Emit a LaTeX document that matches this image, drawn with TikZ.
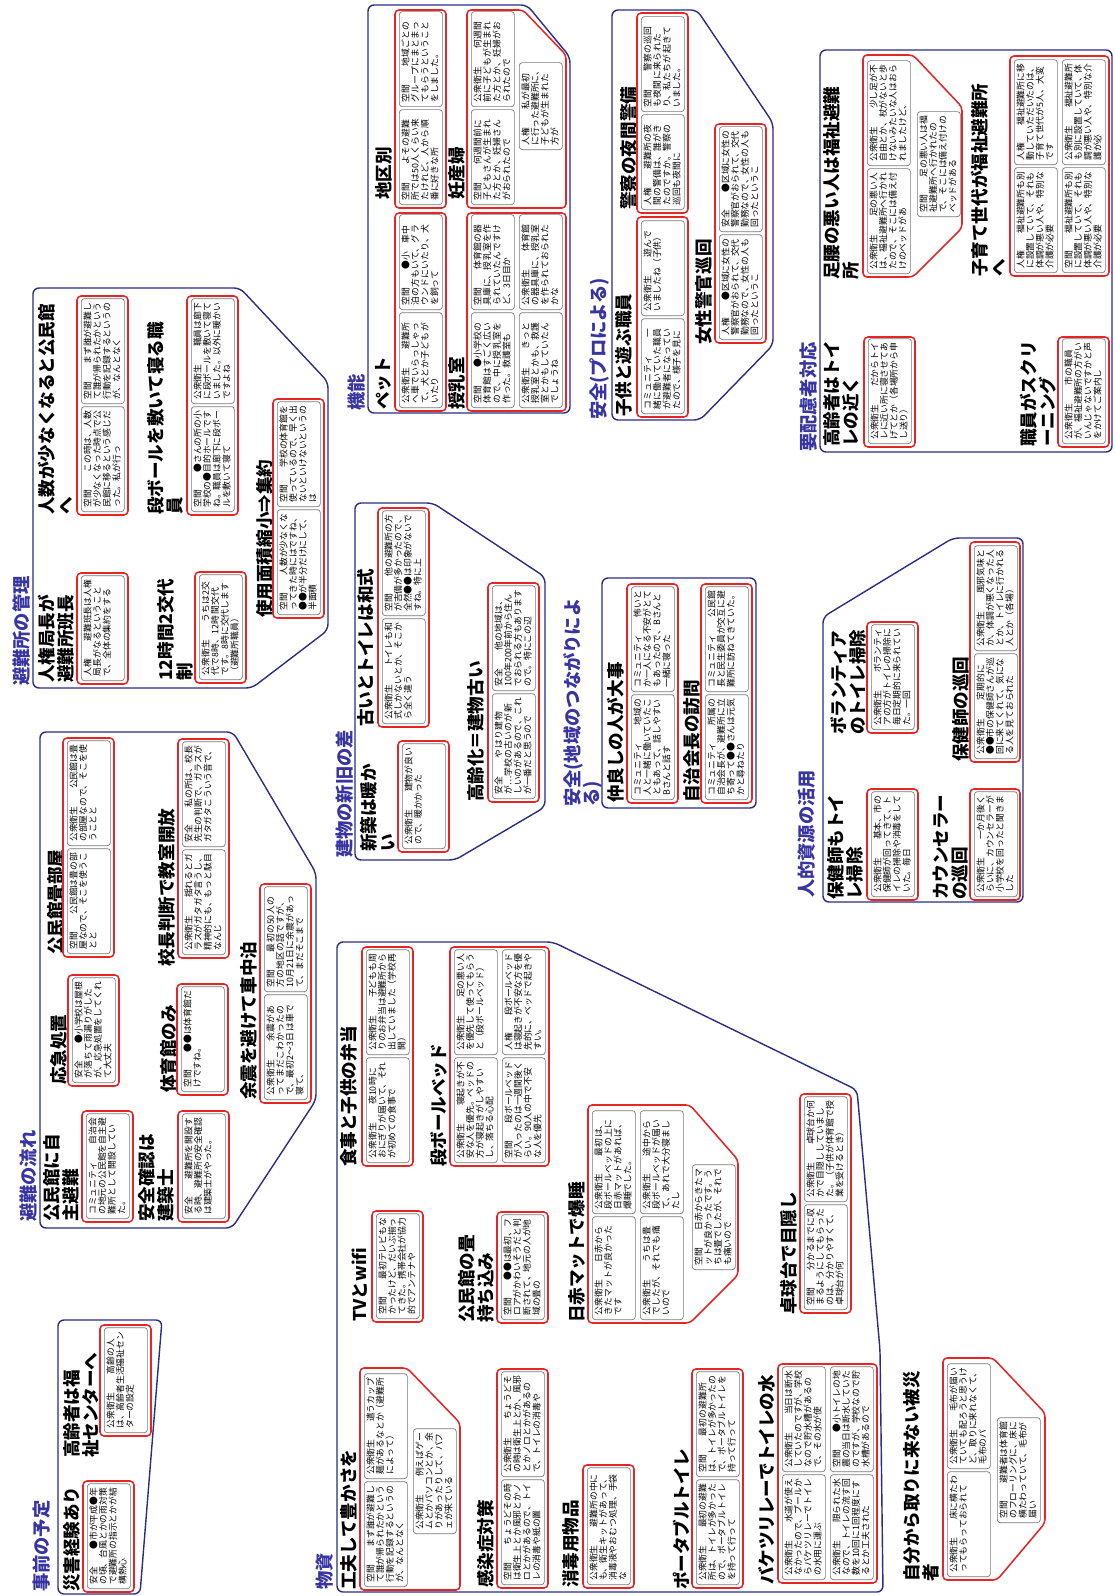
\documentclass[tikz,border=0pt]{standalone}
\usepackage{fontspec}
\setmainfont{Noto Sans CJK JP}
\XeTeXlinebreaklocale "ja"
\XeTeXlinebreakskip=0pt plus 1pt
\usepackage{tikz}
\usepackage{xcolor}
\definecolor{titleblue}{RGB}{56,52,160}
\definecolor{lineblue}{RGB}{44,44,130}
\definecolor{cardred}{RGB}{228,38,38}
\definecolor{notegray}{RGB}{120,120,120}

\begin{document}
\begin{tikzpicture}[x=0.5mm, y=-0.5mm,
    grouptitle/.style={rotate=90, anchor=north west, inner sep=0pt, align=left, text=titleblue, font=\bfseries\fontsize{26}{28}\selectfont},
    cardtitle/.style={rotate=90, anchor=north west, inner sep=0pt, align=left, font=\bfseries\fontsize{25}{27}\selectfont},
    groupline/.style={draw=lineblue, line width=2pt, rounded corners=3mm},
    cardline/.style={draw=cardred, line width=2.2pt, rounded corners=2mm},
    note/.style={rotate=90, anchor=north west, draw=notegray, line width=1pt, rounded corners=1.5mm, inner xsep=2mm, inner ysep=0.7mm, text height=4mm, text depth=16.1mm, text width=48.5mm, align=left, font=\fontsize{12.5}{13.8}\selectfont},
    short note/.style={note, text width=43.5mm},
    mid note/.style={note, text width=47.5mm},
    long note/.style={note, text width=54.5mm},
    tiny note/.style={note, text width=39.5mm}]
    \useasboundingbox (0,0) rectangle (1114,1596);

    % 事前の予定
    \node[grouptitle] (g-jizen) at (33,1592) {事前の予定};
    \draw[groupline] (58,1320) -- (162,1320) -- (140,1594) -- (58,1594) -- cycle;
    \node[cardtitle] (t-saigai) at (63,1592) {災害経験あり};
    \draw[cardline] (83,1481) rectangle (134,1592);
    \node[note] (n-saigai) at (87,1589) {安全　　●市が平成●年の頃、台風とかの雨対策で避難所の指示とかが結構熱心};
    \node[cardtitle] (t-koreisha) at (63,1458) {高齢者は福\\祉センターへ};
    \draw[cardline] (100,1325) rectangle (151,1436);
    \node[note] (n-koreisha) at (104,1433) {公衆衛生　　高齢の人は、高齢者生活福祉センターの設定};

    % 避難の流れ
    \node[grouptitle] (g-nagare) at (20,1222) {避難の流れ};
    \draw[groupline] (40,732) -- (233,732) -- (316,873) -- (316,1100) -- (232,1228) -- (40,1228) -- cycle;
    \node[cardtitle] (t-jishu) at (43,1222) {公民館に自\\主避難};
    \draw[cardline] (82,1111) rectangle (133,1222);
    \node[note] (n-jishu) at (86,1219) {コミュニティ　　自治会の地元の公民館を自主避難所として開設していた。};
    \node[cardtitle] (t-kenchiku) at (138,1222) {安全確認は\\建築士};
    \draw[cardline] (178,1111) rectangle (229,1222);
    \node[note] (n-kenchiku) at (182,1219) {安全　　避難所を開設する時、避難所の安全確認は建築士がやった。};
    \node[cardtitle] (t-oukyu) at (50,1085) {応急処置};
    \draw[cardline] (68,975) rectangle (119,1086);
    \node[note] (n-oukyu) at (72,1083) {安全　　●小学校は屋根が落ちて雨漏りがしたが、応急処置をしてくれて大丈夫};
    \node[cardtitle] (t-tatami) at (47,955) {公民館畳部屋};
    \draw[cardline] (63,738) rectangle (114,957);
    \node[note] (n-tatami1) at (67,954) {空間　　公民館は畳の部屋なので、そこを使うことと};
    \node[note] (n-tatami2) at (67,846) {公衆衛生　　公民館は畳の部屋なので、そこを使うことと};
    \node[cardtitle] (t-taiiku) at (160,1093) {体育館のみ};
    \draw[cardline] (177,984) rectangle (228,1095);
    \node[note] (n-taiiku) at (181,1092) {空間　　●●は体育館だけですね。};
    \node[cardtitle] (t-kocho) at (158,967) {校長判断で教室開放};
    \draw[cardline] (178,739) rectangle (229,958);
    \node[note] (n-kocho1) at (182,955) {公衆衛生　　揺れるとガラスがガタガタ言うし、精神的にも、もっと駄目なんじ};
    \node[note] (n-kocho2) at (182,847) {安全　　私の所は、校長先生の判断で、ガラスがガタガタこういう音で、};
    \node[cardtitle] (t-yoshin) at (240,1100) {余震を避けて車中泊};
    \draw[cardline] (260,884) rectangle (311,1103);
    \node[note] (n-yoshin1) at (264,1100) {公衆衛生　　余震があってまだこわかったので、最初2〜3日は車で寝て、};
    \node[note] (n-yoshin2) at (264,992) {空間　　最初の50人の方の地区の話ですが、10月21日に余震があって、まだそこまで};

    % 避難所の管理
    \node[grouptitle] (g-kanri) at (13,686) {避難所の管理};
    \draw[groupline] (33,288) -- (240,288) -- (328,382) -- (328,630) -- (252,688) -- (33,688) -- cycle;
    \node[cardtitle] (t-hancho) at (38,683) {人権局長が\\避難所班長};
    \draw[cardline] (77,573) rectangle (128,684);
    \node[note] (n-hancho) at (81,681) {人権　　避難班長は人権局長がなるということで、全体の集約をする};
    \node[cardtitle] (t-kotai) at (157,681) {12時間2交代\\制};
    \draw[cardline] (195,572) rectangle (246,683);
    \node[note] (n-kotai) at (199,680) {公衆衛生　　うちは2交代で8時、12時間交代です。8時に交代します（避難所職員）};
    \node[cardtitle] (t-ninzu) at (38,515) {人数が少なくなると公民館\\へ};
    \draw[cardline] (77,296) rectangle (128,515);
    \node[note] (n-ninzu1) at (81,512) {空間　　この時は、人数が少なくなった時点で公民館に移るという感じだった。私が行っ};
    \node[note] (n-ninzu2) at (81,404) {空間　　まず誰が避難して誰が帰られたかという行動を記録するというのが、なんとなく};
    \node[cardtitle] (t-dan) at (147,515) {段ボールを敷いて寝る職\\員};
    \draw[cardline] (187,296) rectangle (238,515);
    \node[note] (n-dan1) at (191,512) {空間　　●さんの所の小学校の●目的ホールですね。職員は廊下に段ボールを敷いて寝て};
    \node[note] (n-dan2) at (191,404) {公衆衛生　　職員は廊下に段ボールを敷いて寝ていました。以外に暖かいですよね};
    \node[cardtitle] (t-menseki) at (256,618) {使用面積縮小⇒集約};
    \draw[cardline] (273,399) rectangle (324,618);
    \node[note] (n-menseki1) at (277,615) {空間　　人数が少なくなってきた時にはですね、●●が半分だけにして、半面積};
    \node[note] (n-menseki2) at (277,507) {空間　　学校の体育館を使っているので、早く出ないといけないというのは};

    % 機能
    \node[grouptitle] (g-kino) at (348,411) {機能};
    \draw[groupline] (368,5) -- (527,5) -- (570,57) -- (570,413) -- (368,413) -- cycle;
    \node[cardtitle] (t-pet) at (375,410) {ペット};
    \draw[cardline] (395,213) rectangle (446,411);
    \node[short note] (n-pet1) at (399,408) {公衆衛生　　避難所へ車でいらっしゃって、犬とか子どもがいたり};
    \node[short note] (n-pet2) at (399,310) {空間　　●小　車中泊の方もいて、グラウンドにいたり、犬を飼って};
    \node[cardtitle] (t-chiku) at (375,200) {地区別};
    \draw[cardline] (395,10) rectangle (446,208);
    \node[short note] (n-chiku1) at (399,205) {空間　　よその避難所では50人くらい来たけれど、人から順番に好きな所};
    \node[short note] (n-chiku2) at (399,107) {空間　　地域ごとのグループにまとまってもらうということをしました。};
    \node[cardtitle] (t-junyu) at (448,410) {授乳室};
    \draw[cardline] (467,213) rectangle (566,411);
    \node[short note] (n-junyu1) at (471,408) {空間　　●小学校の体育館はすごく広いので、中に授乳室を作った。救護室も};
    \node[short note] (n-junyu2) at (471,310) {空間　　体育館の器具庫に、授乳室を作られていたんですけど、3日目か};
    \node[short note] (n-junyu3) at (519,408) {公衆衛生　　きっと授乳室とかも、救護室とかもしていたんでしょうね};
    \node[short note] (n-junyu4) at (519,310) {公衆衛生　　体育館の器具庫に、授乳室を作られておられたかな};
    \node[cardtitle] (t-ninpu) at (448,200) {妊産婦};
    \draw[cardline] (467,10) -- (523,10) -- (566,55) -- (566,208) -- (467,208) -- cycle;
    \node[short note] (n-ninpu1) at (471,205) {空間　　何週間前に子どもさんが生まれた方とか、妊婦さんがおられたので};
    \node[short note] (n-ninpu2) at (471,107) {公衆衛生　　何週間前に子どもが生まれた方とか、妊婦がおられたので};
    \node[tiny note] (n-ninpu3) at (519,150) {人権　　私が最初に行った避難所に、子どもが生まれた方が};

    % 安全(プロによる)
    \node[grouptitle] (g-pro) at (590,420) {安全(プロによる)};
    \draw[groupline] (612,10) -- (697,10) -- (773,123) -- (773,345) -- (700,420) -- (612,420) -- cycle;
    \node[cardtitle] (t-kodomo) at (615,417) {子供と遊ぶ職員};
    \draw[cardline] (637,217) rectangle (688,417);
    \node[short note] (n-kodomo1) at (641,414) {コミュニティ　　一緒に働いていた職員が避難者になっていたので、様子を見に};
    \node[short note] (n-kodomo2) at (641,316) {公衆衛生　　遊んでいましたね（子供）};
    \node[cardtitle] (t-keisatsu) at (620,210) {警察の夜間警備};
    \draw[cardline] (637,13) rectangle (688,213);
    \node[short note] (n-keisatsu1) at (641,210) {人権　　避難所の夜間の警備は、誰がきたのですか。警察の巡回も夜間に};
    \node[short note] (n-keisatsu2) at (641,112) {空間　　警察の巡回も夜間に来られたり、私たちが起きていました。};
    \node[cardtitle] (t-josei) at (695,345) {女性警官巡回};
    \draw[cardline] (715,124) rectangle (766,343);
    \node[note] (n-josei1) at (719,340) {人権　　●区域に女性の警察官がおられて、交代勤務なので、女性の人も回ったというこ};
    \node[note] (n-josei2) at (719,232) {安全　　●区域に女性の警察官がおられて、交代勤務なので、女性の人も回ったというこ};

    % 要配慮者対応
    \node[grouptitle] (g-hairyo) at (800,452) {要配慮者対応};
    \draw[groupline] (820,50) rectangle (1112,452);
    \node[cardtitle] (t-toilet) at (823,447) {高齢者はトイ\\レの近く};
    \draw[cardline] (864,337) rectangle (915,447);
    \node[note] (n-toilet) at (868,444) {公衆衛生　　だからトイレに近い所に寝させてあげてとか（各場所から申し送り）};
    \node[cardtitle] (t-ashi) at (823,280) {足腰の悪い人は福祉避難\\所};
    \draw[cardline] (863,55) -- (913,55) -- (962,107) -- (962,228) -- (913,277) -- (863,277) -- cycle;
    \node[note] (n-ashi1) at (867,274) {公衆衛生　　足の悪い人は、福祉避難所へ行かれたので、そこには備え付けのベッドがあ};
    \node[note] (n-ashi2) at (867,166) {公衆衛生　　少し足が不自由とか、杖がないと歩けないみたいな人はおられましたけど、};
    \node[note] (n-ashi3) at (917,217) {空間　　足の悪い人は福祉避難所へ行かれたので、そこには備え付けのベッドがある};
    \node[cardtitle] (t-screen) at (1020,447) {職員がスクリ\\ーニング};
    \draw[cardline] (1058,337) rectangle (1109,447);
    \node[note] (n-screen) at (1062,444) {公衆衛生　　市の職員が、福祉避難所の方がいいんじゃないですかと声をかけてご案内し};
    \node[cardtitle] (t-kosodate) at (971,277) {子育て世代が福祉避難所\\へ};
    \draw[cardline] (1010,56) rectangle (1109,276);
    \node[note] (n-kosodate1) at (1014,273) {人権　　福祉避難所も別に設置していて、それも体調が悪い人や、特別な介護が必要};
    \node[note] (n-kosodate2) at (1014,165) {人権　　福祉避難所に移動していただいたのは、子育て世代が5人、大変です};
    \node[note] (n-kosodate3) at (1062,273) {空間　　福祉避難所も別に設置していて、それも体調が悪い人や、特別な介護が必要};
    \node[note] (n-kosodate4) at (1062,165) {公衆衛生　　福祉避難所も別に設置していて、体調が悪い人や、特別な介護が必};

    % 建物の新旧の差
    \node[grouptitle] (g-tatemono) at (336,858) {建物の新旧の差};
    \draw[groupline] (355,503) -- (433,503) -- (545,577) -- (545,807) -- (455,860) -- (355,860) -- cycle;
    \node[cardtitle] (t-shinchiku) at (360,852) {新築は暖か\\い};
    \draw[cardline] (398,741) rectangle (449,852);
    \node[note] (n-shinchiku) at (402,849) {公衆衛生　　建物が良いので、暖かかった};
    \node[cardtitle] (t-washiki) at (357,727) {古いとトイレは和式};
    \draw[cardline] (378,508) rectangle (429,727);
    \node[note] (n-washiki1) at (382,724) {公衆衛生　　トイレも和式しかないとか、そこから全く違う};
    \node[note] (n-washiki2) at (382,616) {空間　　他の避難所の方が吉備が多かったので、全然●●は印象がないですね。特に上};
    \node[cardtitle] (t-koreika) at (467,802) {高齢化＝建物古い};
    \draw[cardline] (488,583) rectangle (539,802);
    \node[note] (n-koreika1) at (492,799) {安全　　やはり建物が…学校の古いのが新しいのがあるので、これが一番だと思うので};
    \node[note] (n-koreika2) at (492,691) {安全　　他の地域は、100年200年前から住んでおられる方もありますので。特にこの辺};

    % 安全(地域のつながりによる)
    \node[grouptitle] (g-chiiki) at (563,807) {安全(地域のつながりによ\\る)};
    \draw[groupline] (602,578) rectangle (756,808);
    \node[cardtitle] (t-nakayoshi) at (607,803) {仲良しの人が大事};
    \draw[cardline] (627,584) rectangle (678,803);
    \node[note] (n-nakayoshi1) at (631,800) {コミュニティ　　地域の人と一緒に働いていたこともあって、話しやすいBさんと話す};
    \node[note] (n-nakayoshi2) at (631,692) {コミュニティ　　怖いとか一人になる不安がとてもあったので、Bさんと一緒に寝った};
    \node[cardtitle] (t-jichi) at (683,803) {自治会長の訪問};
    \draw[cardline] (701,584) rectangle (752,803);
    \node[note] (n-jichi1) at (705,800) {コミュニティ　　所属の自治会長が、避難所に立ち寄って●●さんは元気かと尋ねたり};
    \node[note] (n-jichi2) at (705,692) {コミュニティ　　公民館長と民生委員が交互に避難所に訪ねてきていた。};

    % 人的資源の活用
    \node[grouptitle] (g-jinteki) at (798,898) {人的資源の活用};
    \draw[groupline] (823,617) -- (953,538) -- (1023,538) -- (1023,902) -- (823,902) -- cycle;
    \node[cardtitle] (t-hokenshi) at (827,900) {保健師もトイ\\レ掃除};
    \draw[cardline] (867,789) rectangle (918,900);
    \node[note] (n-hokenshi) at (871,897) {公衆衛生　　基本、市の保健師が回ってきて、トイレの掃除や消毒をしていた。毎日};
    \node[cardtitle] (t-volunteer) at (830,735) {ボランティア\\のトイレ掃除};
    \draw[cardline] (867,622) rectangle (918,733);
    \node[note] (n-volunteer) at (871,730) {公衆衛生　　ボランティアの方がトイレの掃除に毎日定期的に来られていた。一回};
    \node[cardtitle] (t-counselor) at (933,900) {カウンセラー\\の巡回};
    \draw[cardline] (970,789) rectangle (1020,900);
    \node[note] (n-counselor) at (974,897) {公衆衛生　　一か月後くらいに、カウンセラーが小学校を回ったと聞きました};
    \node[cardtitle] (t-junkai) at (952,762) {保健師の巡回};
    \draw[cardline] (970,542) rectangle (1020,762);
    \node[note] (n-junkai1) at (974,759) {公衆衛生　　定期的に●●市の保健師さんが巡回に来てくれて、気になる人を見ておられた};
    \node[note] (n-junkai2) at (974,651) {公衆衛生　　風邪気味とか、体調が悪くなった人とか、トイレに行かれる人とか（各場）};

    % 物資
    \node[grouptitle] (g-busshi) at (316,1590) {物資};
    \draw[groupline] (337,942) -- (553,942) -- (857,1090) -- (880,1350) -- (883,1592) -- (337,1592) -- cycle;
    \node[cardtitle] (t-kufu) at (340,1590) {工夫して豊かさを};
    \draw[cardline] (360,1368) -- (407,1368) -- (460,1423) -- (460,1590) -- (360,1590) -- cycle;
    \node[note] (n-kufu1) at (364,1587) {空間　　まず誰が避難して誰が帰られたかという行動を記録するというのが、なんとなく};
    \node[note] (n-kufu2) at (364,1479) {公衆衛生　　遣うカップ麺があるなとか（避難所によって）};
    \node[note] (n-kufu3) at (413,1534) {公衆衛生　　例えばゲームとかパソコンとか、余りがあったりして、パフェが来ている};
    \node[cardtitle] (t-tv) at (352,1322) {TVとwifi};
    \draw[cardline] (372,1211) rectangle (423,1322);
    \node[note] (n-tv) at (376,1319) {空間　　最初テレビもなかったけど、だいぶ揃ってきた。携帯会社が協力的でアンテナや};
    \node[cardtitle] (t-shokuji) at (340,1167) {食事と子供の弁当};
    \draw[cardline] (362,947) rectangle (413,1166);
    \node[note] (n-shokuji1) at (366,1163) {公衆衛生　　夜10時におにぎりが届いて、それが初めての食事で};
    \node[note] (n-shokuji2) at (366,1055) {公衆衛生　　子どもも周りのお弁当は避難所から出していました（学校再開）};
    \node[cardtitle] (t-bed) at (430,1167) {段ボールベッド};
    \draw[cardline] (450,947) rectangle (549,1166);
    \node[note] (n-bed1) at (454,1163) {公衆衛生　　寝起きが不安な人を優先。ベッドの方が寝起きがしやすいし、落ちる心配};
    \node[note] (n-bed2) at (454,1055) {公衆衛生　　足の悪い人を優先して使ってもらうと（段ボールベッド）};
    \node[note] (n-bed3) at (502,1163) {空間　　段ボールベッドが入ったのは一週間後くらい。90人の中で不安な人を優先};
    \node[note] (n-bed4) at (502,1055) {人権　　段ボールベッドは寝起きが不安な方を優先的に、ベッドで起きやすい。};
    \node[cardtitle] (t-tatamimochi) at (458,1323) {公民館の畳\\持ち込み};
    \draw[cardline] (497,1212) rectangle (548,1323);
    \node[note] (n-tatamimochi) at (501,1320) {空間　　●●は最初、フロアがかわいそうだと判断されて、地元の人が地域の畳の};
    \node[cardtitle] (t-kansen) at (477,1588) {感染症対策};
    \draw[cardline] (497,1369) rectangle (548,1588);
    \node[note] (n-kansen1) at (501,1585) {空間　　ちょうどその時は衛生上とか風邪とかノロとかがあるので、トイレの消毒や紙の置};
    \node[note] (n-kansen2) at (501,1477) {公衆衛生　　ちょうどその時は衛生上とか、風邪とかノロとかがあるので、トイレの消毒や};
    \node[cardtitle] (t-shodoku) at (562,1588) {消毒用物品};
    \draw[cardline] (583,1465) rectangle (634,1588);
    \node[long note] (n-shodoku) at (587,1585) {公衆衛生　　避難所の中にも、衛生キットがあって、消毒液やおむつ処理、手袋な};
    \node[cardtitle] (t-nisseki) at (568,1323) {日赤マットで爆睡};
    \draw[cardline] (588,1105) -- (690,1105) -- (738,1160) -- (738,1275) -- (690,1323) -- (588,1323) -- cycle;
    \node[mid note] (n-nisseki1) at (592,1320) {公衆衛生　　日赤からきたマットが良かったです};
    \node[mid note] (n-nisseki2) at (592,1214) {公衆衛生　　最初は、段ボールベッドの上に日赤マットがあれば、爆睡でした。};
    \node[mid note] (n-nisseki3) at (640,1320) {公衆衛生　　うちは畳でしたが、それでも痛いので};
    \node[mid note] (n-nisseki4) at (640,1214) {公衆衛生　　途中から段ボールベッドが届いて、あれで大分寝ましたし};
    \node[note] (n-nisseki5) at (692,1270) {空間　　日赤からきたマットが良かったです。うちは畳でしたが、それでも痛いので};
    \node[cardtitle] (t-portable) at (673,1590) {ポータブルトイレ};
    \draw[cardline] (692,1369) rectangle (743,1588);
    \node[note] (n-portable1) at (696,1585) {公衆衛生　　最初の避難所は、トイレが多かったので、ポータブルトイレを持って行って};
    \node[note] (n-portable2) at (696,1477) {空間　　最初の避難所は、トイレが多かったので、ポータブルトイレを持って行って};
    \node[cardtitle] (t-baketsu) at (758,1585) {バケツリレーでトイレの水};
    \draw[cardline] (778,1364) rectangle (877,1583);
    \node[note] (n-baketsu1) at (782,1580) {公衆衛生　　水道が使えなかったので、プールからバケツリレーでトイレの水用に運ぶ};
    \node[note] (n-baketsu2) at (782,1472) {公衆衛生　　当日は断水していたのですが、学校なので貯水槽があるので、その水が使};
    \node[note] (n-baketsu3) at (830,1580) {公衆衛生　　限られた水なので、トイレの流す回数を10回に1回程度にするとか工夫された};
    \node[note] (n-baketsu4) at (830,1472) {空間　　●小トイレの地震の当日は断水していたのですが、学校なので貯水槽があるので};
    \node[cardtitle] (t-takkyu) at (780,1315) {卓球台で目隠し};
    \draw[cardline] (800,1094) rectangle (851,1313);
    \node[note] (n-takkyu1) at (804,1310) {空間　　分かるまでに収まるようにしてもらったのは、分かりやすくて、卓球台が何};
    \node[note] (n-takkyu2) at (804,1202) {公衆衛生　　卓球台か何かで目隠ししていました。（子供が体育館で授業を受けるとき）};

    % 自分から取りに来ない被災者
    \node[cardtitle] (t-jibun) at (903,1582) {自分から取りに来ない被災\\者};
    \draw[cardline] (943,1358) -- (993,1358) -- (1045,1413) -- (1045,1523) -- (997,1580) -- (943,1580) -- cycle;
    \node[note] (n-jibun1) at (947,1577) {公衆衛生　　床に横たわってもらっておられて};
    \node[note] (n-jibun2) at (947,1469) {公衆衛生　　毛布が届いていても配ろうと思うけど、取りに来れなくて、毛布のパ};
    \node[note] (n-jibun3) at (997,1523) {空間　　避難者は体育館のフローリングに、床に横たわっていて、毛布が届い};
\end{tikzpicture}
\end{document}
